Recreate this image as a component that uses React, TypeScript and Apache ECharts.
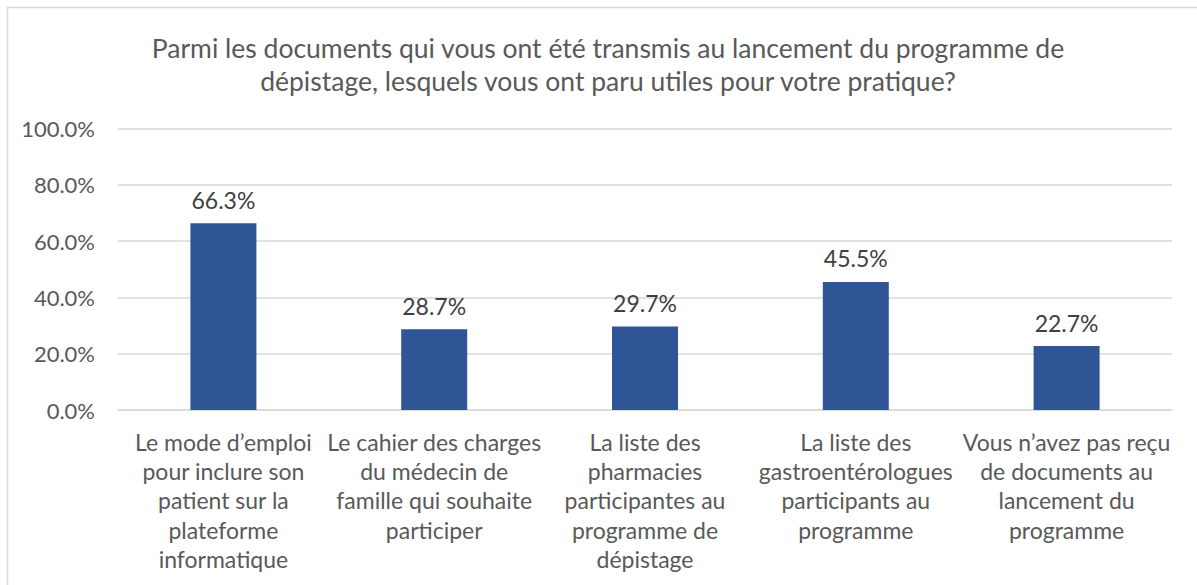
import React, { useEffect, useRef } from "react";
import * as echarts from "echarts";

const titleLines = [
  "Parmi les documents qui vous ont été transmis au lancement du programme de",
  "dépistage, lesquels vous ont paru utiles pour votre pratique?",
];

const categories = [
  "Le mode d’emploi\npour inclure son\npatient sur la\nplateforme\ninformatique",
  "Le cahier des charges\ndu médecin de\nfamille qui souhaite\nparticiper",
  "La liste des\npharmacies\nparticipantes au\nprogramme de\ndépistage",
  "La liste des\ngastroentérologues\nparticipants au\nprogramme",
  "Vous n’avez pas reçu\nde documents au\nlancement du\nprogramme",
];

const values = [66.3, 28.7, 29.7, 45.5, 22.7];

const yTicks = { min: 0, max: 100, interval: 20 };

const FONT = "Lato, 'Open Sans', sans-serif";

export default function App() {
  const ref = useRef<HTMLDivElement>(null);

  useEffect(() => {
    document.body.style.margin = "0";
    if (!ref.current) return;
    const chart = echarts.init(ref.current, null, { renderer: "svg" });
    chart.setOption({
      animation: false,
      backgroundColor: "#ffffff",
      title: {
        text: titleLines.join("\n"),
        left: 603,
        top: 26,
        textAlign: "center",
        textStyle: {
          fontFamily: FONT,
          fontSize: 26.5,
          fontWeight: "normal",
          color: "#595959",
          lineHeight: 33,
        },
      },
      graphic: [
        {
          type: "rect",
          shape: { x: 7.5, y: 7.5, width: 1250, height: 650 },
          style: { fill: "none", stroke: "#D9D9D9", lineWidth: 1.5 },
          silent: true,
        },
      ],
      grid: { left: 118, right: 25, top: 128.5, bottom: 175, containLabel: false },
      xAxis: {
        type: "category",
        data: categories,
        axisLine: { show: true, lineStyle: { color: "#D9D9D9", width: 1.5 } },
        axisTick: { show: false },
        axisLabel: {
          interval: 0,
          margin: 17,
          fontFamily: FONT,
          fontSize: 23,
          lineHeight: 29.3,
          color: "#595959",
          verticalAlign: "top",
        },
      },
      yAxis: {
        type: "value",
        min: yTicks.min,
        max: yTicks.max,
        interval: yTicks.interval,
        axisLine: { show: false },
        axisTick: { show: false },
        splitLine: { lineStyle: { color: "#D9D9D9", width: 1.5 } },
        axisLabel: {
          margin: 23,
          fontFamily: FONT,
          fontSize: 22,
          color: "#595959",
          formatter: (v: number) => v.toFixed(1) + "%",
        },
      },
      series: [
        {
          type: "bar",
          data: values,
          barWidth: 66,
          itemStyle: { color: "#2F5597" },
          label: {
            show: true,
            position: "top",
            distance: 12,
            fontFamily: FONT,
            fontSize: 23,
            color: "#404040",
            formatter: (p: any) => p.value.toFixed(1) + "%",
          },
        },
      ],
    });
    return () => chart.dispose();
  }, []);

  return <div ref={ref} style={{ width: 1197, height: 585 }} />;
}
